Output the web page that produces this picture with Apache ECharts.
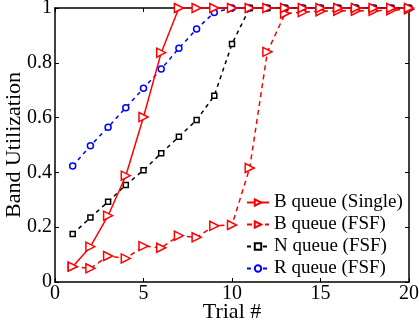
<!DOCTYPE html>
<html>
<head>
<meta charset="utf-8">
<script src="https://cdn.jsdelivr.net/npm/echarts@6/dist/echarts.min.js"></script>
<style>
  html, body { margin: 0; padding: 0; background: #fff; }
  #chart { width: 419px; height: 331px; }
</style>
</head>
<body>
<div id="chart"></div>
<script>
// Values (trial 1..20).
const trials = [1, 2, 3, 4, 5, 6, 7, 8, 9, 10, 11, 12, 13, 14, 15, 16, 17, 18, 19, 20];
const bSingle = [0.056, 0.129, 0.242, 0.388, 0.602, 0.837, 1, 1, 1, 1, 1, 1, 1, 1, 1, 1, 1, 1, 1, 1];
const bFsf = [0.056, 0.05, 0.095, 0.086, 0.131, 0.125, 0.169, 0.163, 0.205, 0.208, 0.416, 0.84, 0.98, 0.985, 0.988, 0.99, 0.99, 0.99, 0.992, 0.995];
const nFsf = [0.175, 0.235, 0.293, 0.354, 0.408, 0.47, 0.53, 0.591, 0.68, 0.869, 1, 1, 1, 1, 1, 1, 1, 1, 1, 1];
const rFsf = [0.423, 0.497, 0.565, 0.636, 0.707, 0.777, 0.853, 0.923, 0.984, 1, 1, 1, 1, 1, 1, 1, 1, 1, 1, 1];

const FONT = '"Liberation Serif", "DejaVu Serif", serif';
const pairs = (ys) => trials.map((t, i) => [t, ys[i]]);

const chart = echarts.init(document.getElementById('chart'), null, { renderer: 'canvas' });

// Box frame: same axis styling on all four sides, ticks pointing inward.
const boxAxis = {
  axisLine: { show: true, onZero: false, lineStyle: { color: '#000', width: 1.5 } },
  axisTick: { show: true, inside: true, length: 4, lineStyle: { color: '#000' } },
  splitLine: { show: false },
};

chart.setOption({
  animation: false,
  grid: { left: 55, right: 10, top: 8, bottom: 49, outerBoundsMode: 'none', containLabel: false },
  legend: {
    left: 246,
    top: 193,
    padding: 0,
    orient: 'vertical',
    itemGap: 3,
    itemWidth: 22,
    itemHeight: 8,
    textStyle: { fontFamily: FONT, fontSize: 19, lineHeight: 19, color: '#000' },
    data: ['B queue (Single)', 'B queue (FSF)', 'N queue (FSF)', 'R queue (FSF)'],
  },
  xAxis: [
    {
      type: 'value', min: 0, max: 20, interval: 5,
      name: 'Trial #', nameLocation: 'middle', nameGap: 19, nameMoveOverlap: false,
      nameTextStyle: { fontFamily: FONT, fontSize: 22, color: '#000', verticalAlign: 'top' },
      axisLabel: { fontFamily: FONT, fontSize: 20, color: '#000', margin: 2 },
      ...boxAxis,
    },
    {
      type: 'value', min: 0, max: 20, interval: 5, position: 'top',
      axisLabel: { show: false },
      ...boxAxis,
    },
  ],
  yAxis: [
    {
      type: 'value', min: 0, max: 1, interval: 0.2,
      name: 'Band Utilization', nameLocation: 'middle', nameGap: 30, nameMoveOverlap: false,
      nameTextStyle: { fontFamily: FONT, fontSize: 22, color: '#000' },
      axisLabel: { fontFamily: FONT, fontSize: 20, color: '#000', margin: 3,
        formatter: (v) => (v === 0 || v === 1 ? String(v) : v.toFixed(1)) },
      ...boxAxis,
    },
    {
      type: 'value', min: 0, max: 1, interval: 0.2, position: 'right',
      axisLabel: { show: false },
      ...boxAxis,
    },
  ],
  series: [
    {
      name: 'R queue (FSF)', type: 'line', data: pairs(rFsf),
      symbol: 'circle', symbolSize: 6, showAllSymbol: true,
      lineStyle: { color: '#0000ff', width: 1.5, type: [4, 4] },
      itemStyle: { color: '#fff', borderColor: '#0000ff', borderWidth: 1.5 },
      z: 2,
    },
    {
      name: 'N queue (FSF)', type: 'line', data: pairs(nFsf),
      symbol: 'rect', symbolSize: 5, showAllSymbol: true,
      lineStyle: { color: '#000', width: 1.5, type: [4, 4] },
      itemStyle: { color: '#fff', borderColor: '#000', borderWidth: 1.5 },
      z: 3,
    },
    {
      name: 'B queue (FSF)', type: 'line', data: pairs(bFsf),
      symbol: 'triangle', symbolRotate: -90, symbolSize: 9, showAllSymbol: true,
      lineStyle: { color: '#ff0000', width: 1.5, type: [5, 4] },
      itemStyle: { color: '#fff', borderColor: '#ff0000', borderWidth: 1.5 },
      z: 4,
    },
    {
      name: 'B queue (Single)', type: 'line', data: pairs(bSingle),
      symbol: 'triangle', symbolRotate: -90, symbolSize: 9, showAllSymbol: true,
      lineStyle: { color: '#ff0000', width: 1.5 },
      itemStyle: { color: '#fff', borderColor: '#ff0000', borderWidth: 1.5 },
      z: 5,
    },
  ],
});
</script>
</body>
</html>
